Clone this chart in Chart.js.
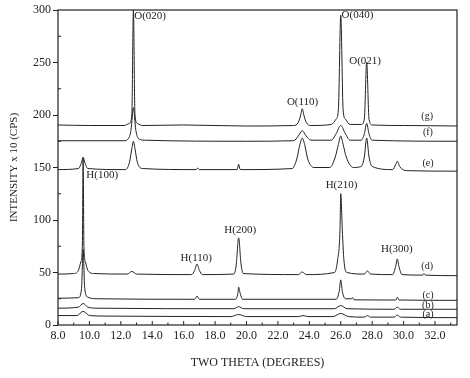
<!DOCTYPE html>
<html>
<head>
<meta charset="utf-8">
<script src="https://cdn.jsdelivr.net/npm/chart.js@4.4.0/dist/chart.umd.min.js"></script>
<style>
    html, body { margin: 0; padding: 0; background: #fff; }
    #wrap { width: 470px; height: 378px; }
</style>
</head>
<body>
<div id="wrap"><canvas id="xrdChart"></canvas></div>
<script>
// two theta (deg), intensity x 10 (cps), stacked as printed
const traceG = [[8,190.5],[10,190],[12.2,190],[12.55,192],[12.7,200],[12.8,300],[12.9,200],[13.05,192],[13.4,190],[16,190.5],[20,189.5],[23.0,190],[23.3,193],[23.45,200],[23.55,206],[23.65,200],[23.8,193],[24.1,190],[25.4,191],[25.7,196],[25.85,205],[26.0,295],[26.15,205],[26.3,196],[26.6,191],[27.3,191],[27.5,196],[27.65,250],[27.8,196],[28.0,190.5],[30,190],[33.4,189.5]];
const traceF = [[8,175.5],[12.2,175.5],[12.5,178],[12.65,186],[12.8,207],[12.95,186],[13.1,178],[13.5,176],[20,175],[23.0,175.5],[23.3,180],[23.55,185],[23.8,180],[24.1,176],[25.4,176],[25.7,182],[26.0,190],[26.3,182],[26.6,176],[27.3,176],[27.5,182],[27.65,192],[27.8,182],[28.0,176],[33.4,175]];
const traceE = [[8,148],[9.3,149],[9.5,155],[9.6,160],[9.7,155],[9.9,149],[12.3,148],[12.55,155],[12.7,168],[12.8,175],[12.9,168],[13.05,155],[13.4,149],[16.8,148],[16.9,149.5],[17.0,148],[19.4,148],[19.5,153],[19.6,148],[22.9,149],[23.2,158],[23.4,172],[23.55,178],[23.7,172],[23.9,158],[24.3,150],[25.3,150],[25.65,160],[25.85,172],[26.0,180],[26.15,172],[26.35,160],[26.8,150],[27.3,151],[27.5,160],[27.65,178],[27.8,160],[28.0,151],[29.3,148],[29.5,153],[29.6,156],[29.75,151],[30.2,147],[33.4,146.5]];
const traceD = [[8,48.5],[9.0,49],[9.3,52],[9.45,60],[9.55,75],[9.6,158],[9.65,75],[9.75,60],[9.9,52],[10.3,49],[12.4,48.5],[12.7,51],[13.0,48.5],[16.5,48],[16.7,52],[16.85,58],[17.0,52],[17.2,48],[19.2,48.5],[19.35,58],[19.5,83],[19.65,58],[19.8,49],[23.3,48],[23.55,50.5],[23.8,48],[25.6,50],[25.8,62],[25.95,90],[26.0,125],[26.1,90],[26.2,62],[26.4,50],[27.5,48.5],[27.7,51.5],[27.9,48.5],[29.3,48],[29.5,56],[29.6,63],[29.7,56],[29.9,48],[31.2,47.5],[31.3,49],[31.4,47.5],[33.4,47]];
const traceC = [[8,25.5],[9.3,26],[9.5,35],[9.6,72],[9.7,35],[9.9,26.5],[10.5,25],[16.7,24.5],[16.85,27.5],[17.0,24.5],[19.3,24.5],[19.45,30],[19.5,36],[19.6,30],[19.75,24.5],[25.7,24.5],[25.9,32],[26.0,43],[26.1,32],[26.3,25],[26.7,25],[26.75,26],[26.85,24],[29.5,23.8],[29.6,26.5],[29.7,23.8],[33.4,23.5]];
const traceB = [[8,16],[9.3,17],[9.6,20.5],[9.9,17],[10.5,16],[19.2,15.5],[19.5,17.5],[19.8,15.5],[25.6,15.5],[26.0,18.5],[26.4,15.5],[29.4,15],[29.6,17],[29.8,15],[33.4,15]];
const traceA = [[8,9],[9.2,9],[9.6,13],[10.0,9],[11,8.5],[19.0,8],[19.5,10],[20,8],[23.3,8],[23.6,9],[23.9,8],[25.5,8],[26.0,11],[26.5,8],[27.5,7.5],[27.7,9],[27.9,7.5],[29.4,7.5],[29.6,9.5],[29.8,7.5],[33.4,7]];

const traces = [traceA, traceB, traceC, traceD, traceE, traceF, traceG];
const traceNames = ['(a)', '(b)', '(c)', '(d)', '(e)', '(f)', '(g)'];

// where the printed labels sit, in data units
const traceLabelPos = [[31.55,10.5],[31.55,19],[31.55,28.5],[31.5,56],[31.55,154],[31.55,183],[31.5,199]];
const peakLabels = [
    ['O(020)', 12.85, 294, 'left'],
    ['O(110)', 23.57, 212, 'center'],
    ['O(040)', 26.05, 295, 'left'],
    ['O(021)', 27.55, 251, 'center'],
    ['H(100)', 9.8, 143, 'left'],
    ['H(110)', 16.8, 64, 'center'],
    ['H(200)', 19.6, 90, 'center'],
    ['H(210)', 26.05, 133, 'center'],
    ['H(300)', 29.57, 72, 'center']
];

const SERIF = "'Liberation Serif', 'DejaVu Serif', serif";
const INK = '#222';

const framePlugin = {
    id: 'frame',
    afterDatasetsDraw(chart) {
        const {ctx, chartArea: a, scales} = chart;
        ctx.save();
        ctx.strokeStyle = INK;
        ctx.lineWidth = 1.2;
        ctx.strokeRect(a.left, a.top, a.right - a.left, a.bottom - a.top);

        // inward ticks on the bottom axis
        ctx.lineWidth = 1;
        scales.x.ticks.forEach(t => {
            const px = scales.x.getPixelForValue(t.value);
            const len = t.value % 2 === 0 ? 4 : 2.5;
            ctx.beginPath();
            ctx.moveTo(px, a.bottom);
            ctx.lineTo(px, a.bottom - len);
            ctx.stroke();
        });
        // small inward ticks between the y labels
        for (let v = 25; v < 300; v += 50) {
            const py = scales.y.getPixelForValue(v);
            ctx.beginPath();
            ctx.moveTo(a.left, py);
            ctx.lineTo(a.left + 3, py);
            ctx.stroke();
        }

        ctx.fillStyle = INK;
        ctx.textBaseline = 'middle';
        ctx.font = '11px ' + SERIF;
        peakLabels.forEach(([txt, x, y, align]) => {
            ctx.textAlign = align;
            ctx.fillText(txt, scales.x.getPixelForValue(x), scales.y.getPixelForValue(y));
        });
        ctx.font = '10px ' + SERIF;
        ctx.textAlign = 'center';
        traceNames.forEach((n, i) => {
            const [x, y] = traceLabelPos[i];
            ctx.fillText(n, scales.x.getPixelForValue(x), scales.y.getPixelForValue(y));
        });
        ctx.restore();
    }
};

const datasets = traces.map((pts, i) => ({
    label: traceNames[i],
    data: pts.map(p => ({x: p[0], y: p[1]})),
    borderColor: INK,
    borderWidth: 1,
    pointRadius: 0,
    fill: false,
    cubicInterpolationMode: 'monotone'
}));

new Chart(document.getElementById('xrdChart').getContext('2d'), {
    type: 'line',
    data: {datasets: datasets},
    options: {
        responsive: true,
        maintainAspectRatio: false,
        animation: false,
        layout: {padding: {top: 10, right: 13, left: 0, bottom: 0}},
        plugins: {legend: {display: false}, tooltip: {enabled: false}},
        scales: {
            x: {
                type: 'linear',
                min: 8,
                max: 33.4,
                afterFit: s => { s.height = 53; },
                border: {display: false},
                grid: {drawOnChartArea: false, drawTicks: false},
                ticks: {
                    stepSize: 1,
                    includeBounds: false,
                    autoSkip: false,
                    maxRotation: 0,
                    padding: 4,
                    color: INK,
                    font: {family: SERIF, size: 12},
                    callback: v => (v % 2 === 0 ? v.toFixed(1) : '')
                },
                title: {
                    display: true,
                    text: 'TWO THETA (DEGREES)',
                    color: INK,
                    font: {family: SERIF, size: 12},
                    padding: {top: 0, bottom: 8}
                }
            },
            y: {
                min: 0,
                max: 300,
                afterFit: s => { s.width = 58; },
                border: {display: false},
                grid: {drawOnChartArea: false, drawTicks: true, tickLength: 5, color: INK},
                ticks: {
                    stepSize: 50,
                    padding: 2,
                    color: INK,
                    font: {family: SERIF, size: 12}
                },
                title: {
                    display: true,
                    text: 'INTENSITY x 10 (CPS)',
                    color: INK,
                    font: {family: SERIF, size: 11},
                    padding: {top: 8, bottom: 0}
                }
            }
        }
    },
    plugins: [framePlugin]
});
</script>
</body>
</html>
